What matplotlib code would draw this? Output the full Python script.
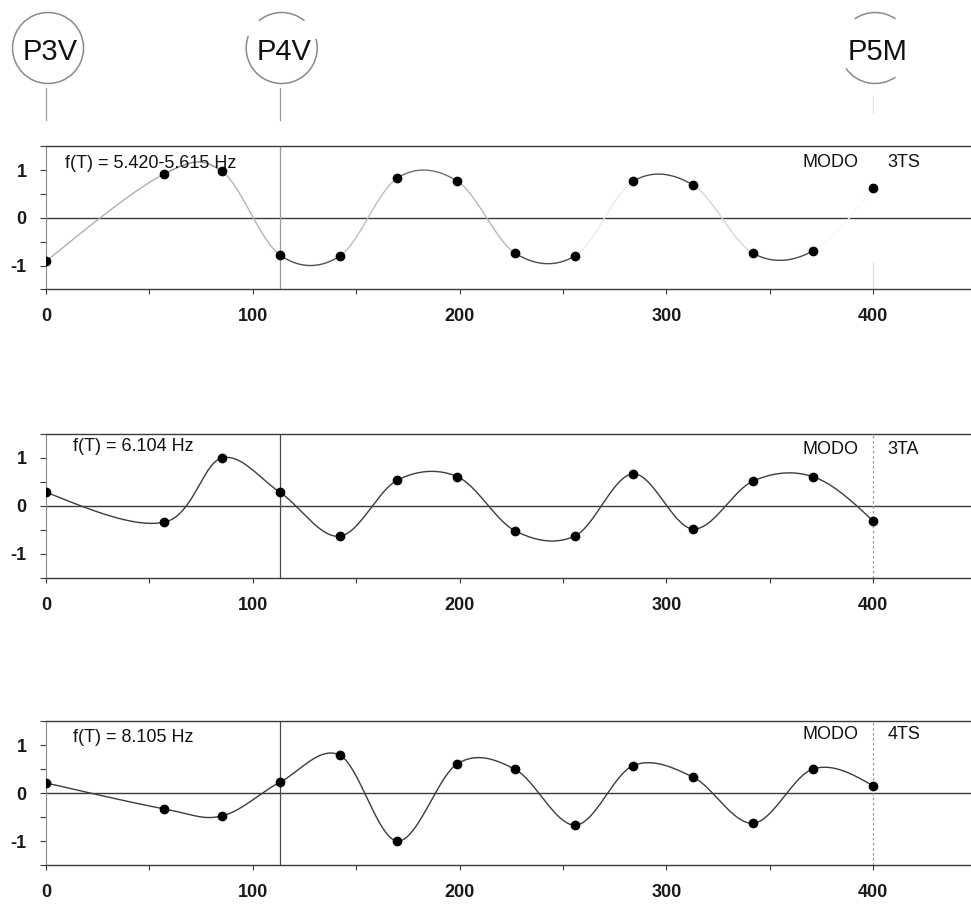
import numpy as np
import matplotlib
matplotlib.use("Agg")
import matplotlib.pyplot as plt
from matplotlib.patches import Arc
from matplotlib.ticker import FixedLocator, NullFormatter

plt.rcParams["font.family"] = ["Liberation Sans", "DejaVu Sans"]
plt.rcParams["axes.unicode_minus"] = False

# positions along the deck (m) where the modal shape was measured
positions = [0, 57, 85, 113, 142, 170, 199, 227, 256, 284, 313, 342, 371, 400]

# normalised modal amplitudes
mode_3ts = [-0.91, 0.92, 0.98, -0.77, -0.80, 0.84, 0.77, -0.74, -0.79, 0.77, 0.69, -0.74, -0.69, 0.62]
mode_3ta = [0.29, -0.34, 1.00, 0.29, -0.63, 0.54, 0.61, -0.52, -0.62, 0.67, -0.48, 0.52, 0.61, -0.31]
mode_4ts = [0.21, -0.33, -0.48, 0.22, 0.79, -1.00, 0.61, 0.49, -0.67, 0.57, 0.33, -0.63, 0.50, 0.15]

mode_names = ["3TS", "3TA", "4TS"]
freq_labels = ["f(T) = 5.420-5.615 Hz", "f(T) = 6.104 Hz", "f(T) = 8.105 Hz"]

# piers / supports marked above the plots
station_x = [0, 113, 400]
station_names = ["P3V", "P4V", "P5M"]

W, H = 971, 907
X_MAX = 447.4
HDR_H = 130


def px_rect(left, top, right, bottom):
    return [left / W, 1 - bottom / H, (right - left) / W, (bottom - top) / H]


def smooth_segments(xs, ys, n=40):
    """Cubic Hermite (Catmull-Rom) pieces between consecutive points."""
    pts = np.column_stack([xs, ys]).astype(float)
    tan = np.zeros_like(pts)
    tan[1:-1] = (pts[2:] - pts[:-2]) / 2
    tan[0] = (3 * (pts[1] - pts[0]) - tan[1]) / 2
    tan[-1] = (3 * (pts[-1] - pts[-2]) - tan[-2]) / 2
    t = np.linspace(0, 1, n)[:, None]
    h00 = 2 * t**3 - 3 * t**2 + 1
    h10 = t**3 - 2 * t**2 + t
    h01 = -2 * t**3 + 3 * t**2
    h11 = t**3 - t**2
    return [h00 * pts[i] + h10 * tan[i] + h01 * pts[i + 1] + h11 * tan[i + 1]
            for i in range(len(pts) - 1)]


def style_panel(ax):
    ax.set_xlim(0, X_MAX)
    ax.set_ylim(-1.5, 1.5)
    ax.spines["right"].set_visible(False)
    for side in ("top", "bottom"):
        ax.spines[side].set_color("#3a3a3a")
        ax.spines[side].set_linewidth(1.0)
    ax.spines["left"].set_color("#8c8c8c")
    ax.spines["left"].set_linewidth(0.8)
    ax.xaxis.set_major_locator(FixedLocator([0, 100, 200, 300, 400]))
    ax.xaxis.set_minor_locator(FixedLocator([50, 150, 250, 350]))
    ax.yaxis.set_major_locator(FixedLocator([-1, 0, 1]))
    ax.yaxis.set_minor_locator(FixedLocator([-1.5, -0.5, 0.5, 1.5]))
    ax.yaxis.set_minor_formatter(NullFormatter())
    ax.tick_params(axis="both", which="both", direction="out", color="#3a3a3a", width=0.8)
    ax.tick_params(axis="x", which="both", length=3.6, pad=10, labelsize=13)
    ax.tick_params(axis="y", which="both", length=4.3, pad=9.5, labelsize=13)
    for lab in ax.get_xticklabels() + ax.get_yticklabels():
        lab.set_fontweight("bold")
        lab.set_color("#1a1a1a")
    ax.axhline(0, color="#3a3a3a", lw=1.0, zorder=1)


fig = plt.figure(figsize=(W / 100, H / 100), dpi=100)

panel_rects = [(46, 146.5, 971, 289.5), (46, 434, 971, 578), (46, 721, 971, 865)]
series = [mode_3ts, mode_3ta, mode_4ts]
freq_y = [1.15, 1.23, 1.15]
modo_y = [1.17, 1.18, 1.21]

# first panel comes from a faded print: the smoothed line fades in and out
faded_grays = ["#b0b0b0", "#909090", "#b4b4b4", "#505050", "#bdbdbd", "#6e6e6e", "#b8b8b8",
               "#4a4a4a", "#ececec", "#4a4a4a", "#d6d6d6", "#4a4a4a", "#f8f8f8"]

for k, (rect, ys) in enumerate(zip(panel_rects, series)):
    ax = fig.add_axes(px_rect(*rect))
    style_panel(ax)
    segs = smooth_segments(positions, ys)
    if k == 0:
        for seg, gray in zip(segs, faded_grays):
            ax.plot(seg[:, 0], seg[:, 1], color=gray, lw=1.0, zorder=2)
        ax.axvline(station_x[1], color="#9a9a9a", lw=0.9, zorder=1)
        ax.plot([station_x[2], station_x[2]], [-1.5, -0.95], color="#e2e2e2", lw=0.9, zorder=1)
    else:
        curve = np.vstack(segs)
        ax.plot(curve[:, 0], curve[:, 1], color="#3c3c3c", lw=1.0, zorder=2)
        ax.axvline(station_x[1], color="#4a4a4a", lw=0.9, zorder=1)
        ax.axvline(station_x[2], color="#9a9a9a", lw=0.9, ls=(0, (2, 2)), zorder=1)
    ax.plot(positions, ys, "o", color="black", ms=6, zorder=3)
    ax.text(9 if k == 0 else 13, freq_y[k], freq_labels[k], fontsize=13, va="center",
            ha="left", color="#111111")
    ax.text(366, modo_y[k], "MODO", fontsize=13, va="center", ha="left", color="#111111")
    ax.text(407, modo_y[k], mode_names[k], fontsize=13, va="center", ha="left",
            color="#111111")

# header with the support markers; y counts pixels up from the header bottom
hdr = fig.add_axes(px_rect(46, 0, 971, HDR_H))
hdr.set_xlim(0, X_MAX)
hdr.set_ylim(0, HDR_H)
hdr.axis("off")
px_per_unit = (971 - 46) / X_MAX
diam = 71 / px_per_unit
cy = HDR_H - 48


def data_angle(deg):
    # screen angle -> angle in the stretched data space of the header
    r = np.radians(deg)
    return np.degrees(np.arctan2(np.sin(r), np.cos(r) / px_per_unit))


# visible pieces of each circle outline (screen degrees)
arc_spans = [[(0, 360)], [(50, 130), (160, 375)], [(55, 125), (215, 305)]]
for sx, name, spans in zip(station_x, station_names, arc_spans):
    for t1, t2 in spans:
        if t2 - t1 >= 360:
            d1, d2 = 0.0, 360.0
        else:
            d1, d2 = data_angle(t1), data_angle(t2)
            while d2 <= d1:
                d2 += 360
        hdr.add_patch(Arc((sx + 1, cy), diam, 71, theta1=d1, theta2=d2,
                          color="#8a8a8a", lw=1.1, clip_on=False))
    hdr.text(sx + 2, HDR_H - 52, name, fontsize=21, ha="center", va="center",
             color="#111111", clip_on=False)
hdr.plot([station_x[0], station_x[0]], [HDR_H - 88, HDR_H - 120], color="#9a9a9a", lw=0.9,
         clip_on=False)
hdr.plot([station_x[1], station_x[1]], [HDR_H - 88, HDR_H - 120], color="#9a9a9a", lw=0.9,
         clip_on=False)
hdr.plot([station_x[2], station_x[2]], [HDR_H - 96, HDR_H - 112], color="#e6e6e6", lw=0.9,
         clip_on=False)

fig.savefig("out.png", dpi=100, facecolor="white")
